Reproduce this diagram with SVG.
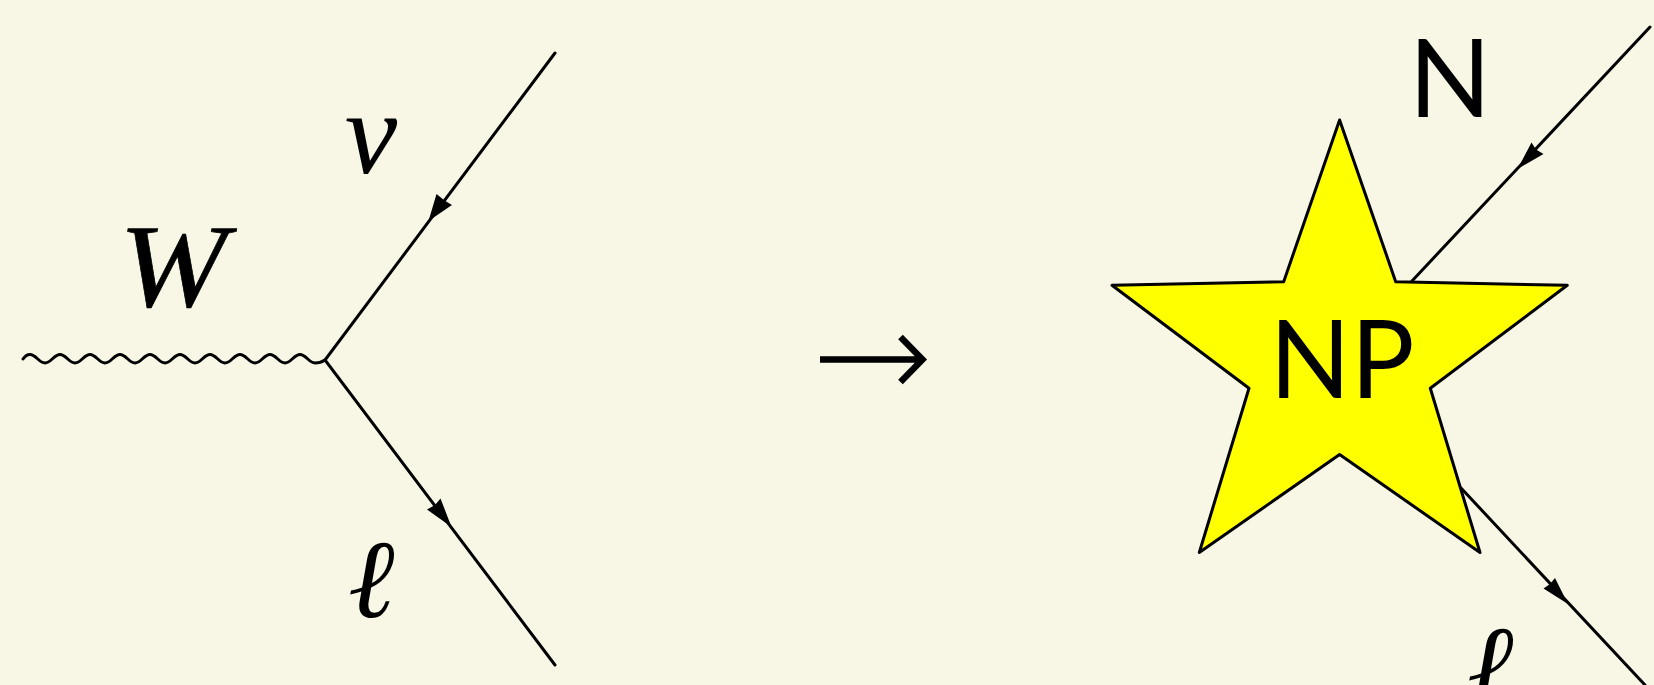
<svg xmlns="http://www.w3.org/2000/svg" width="1654" height="685" viewBox="0 0 1654 685">
<style>
.l{fill:none;stroke:#000;stroke-width:3;stroke-linecap:round}
.h{fill:#000;stroke:none}
.m{font-family:"Liberation Serif",serif;font-style:italic;fill:#000}
.s{font-family:Lato,"Noto Sans",sans-serif;fill:#000}
</style>
<rect width="1654" height="685" fill="#f8f7e6"/>
<g id="connectors">
<path id="boson" class="l" d="M23 359C25 356 27.500 354.500 30 354.500C36 354.500 39 363 45 363S54 354.500 60 354.500S69 363 75 363S84 354.500 90 354.500S99 363 105 363S114 354.500 120 354.500S129 363 135 363S144 354.500 150 354.500S159 363 165 363S174 354.500 180 354.500S189 363 195 363S204 354.500 210 354.500S219 363 225 363S234 354.500 240 354.500S249 363 255 363S264 354.500 270 354.500S279 363 285 363S294 354.500 300 354.500S309 363 315 363C319 363 322 362 325 360"/>
<path class="l" d="M555 53L325 360L555 665"/>
<path class="h" d="M428.500 221L436.500 194L444.500 200.500L452 205Z"/>
<path class="h" d="M451.500 527L427 509.500L435 505L440.500 498.500Z"/>
<path class="l" d="M1650 27L1412 281"/>
<path class="h" d="M1517.500 169L1531.500 142.500L1536 149.500L1543.500 154Z"/>
<path class="l" d="M1461 488L1645 685"/>
<path class="h" d="M1568 604L1543.500 588.500L1550 584L1555 578Z"/>
<path id="implies" d="M820 359.500H921M900.500 337L922.500 359.500L900.500 382" fill="none" stroke="#000" stroke-width="6.500"/>
</g>
<g id="star">
<polygon points="1339.600,120 1395.700,281.700 1567.300,285.300 1430.300,388.200 1480,552.500 1339.600,454.600 1199.300,552.500 1249,388.200 1112,285.300 1283.700,281.700" fill="#ffff00" stroke="#000" stroke-width="3" stroke-linejoin="round"/>
<text class="s" x="1342" y="398" font-size="108" text-anchor="middle" textLength="145" lengthAdjust="spacingAndGlyphs">NP</text>
</g>
<g id="labels">
<text id="w" class="m" x="173" y="306" font-size="118" text-anchor="middle" textLength="108" lengthAdjust="spacingAndGlyphs" stroke="#000" stroke-width="0.700">W</text>
<text id="nu" class="m" x="371" y="173" font-size="118" text-anchor="middle">ν</text>
<text id="lep1" class="m" x="374" y="617" font-size="112" font-weight="bold" text-anchor="middle">ℓ</text>
<text id="n" class="s" x="1450" y="117" font-size="108" text-anchor="middle">N</text>
<text id="lep2" class="m" x="1493" y="703" font-size="112" font-weight="bold" text-anchor="middle">ℓ</text>
</g>
</svg>
